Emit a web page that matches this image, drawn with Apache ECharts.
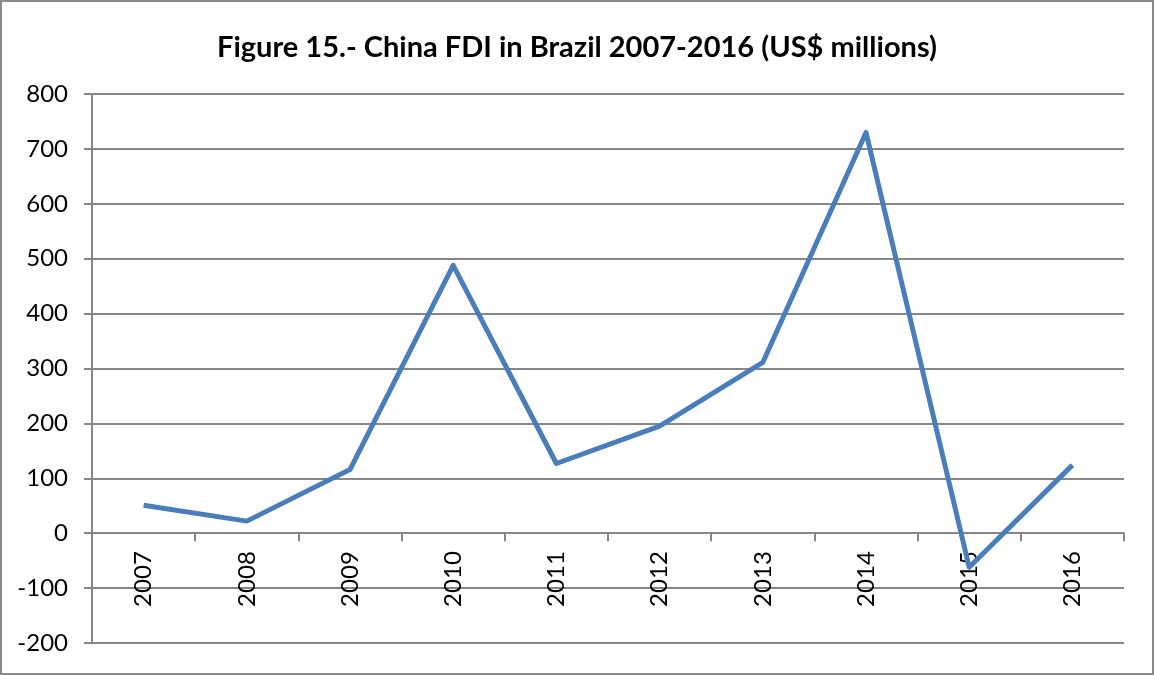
<!DOCTYPE html>
<html>
<head>
<meta charset="utf-8">
<script src="https://cdn.jsdelivr.net/npm/echarts@6/dist/echarts.min.js"></script>
<style>
  html, body { margin: 0; padding: 0; background: #fff; }
  #chart { width: 1154px; height: 675px; box-sizing: border-box; border: 2px solid #8a8a8a; }
</style>
</head>
<body>
<div id="chart"></div>
<script>
const titleText = "Figure 15.- China FDI in Brazil 2007-2016 (US$ millions)";
const years = ["2007", "2008", "2009", "2010", "2011", "2012", "2013", "2014", "2015", "2016"];
const fdiValues = [51, 22, 116, 488, 127, 195, 311, 730, -62, 124];
const yMin = -200, yMax = 800, yStep = 100;

const el = document.getElementById('chart');
const chart = echarts.init(el, null, { renderer: 'canvas' });
const font = 'Lato, "Open Sans", sans-serif';
const gridTop = 92, gridBottom = 30;
const gridHeight = el.clientHeight - gridTop - gridBottom;
// place the category axis on the zero line (labels follow it)
const zeroOffset = -gridHeight * (0 - yMin) / (yMax - yMin);

chart.setOption({
  animation: false,
  title: {
    text: titleText,
    left: 'center',
    top: 26,
    textStyle: { fontFamily: font, fontSize: 29, fontWeight: 'bold', color: '#000' }
  },
  grid: { left: 90, right: 28, top: gridTop, bottom: gridBottom, outerBoundsMode: 'none', containLabel: false },
  xAxis: {
    type: 'category',
    data: years,
    boundaryGap: true,
    position: 'bottom',
    offset: zeroOffset,
    axisLine: { onZero: false, lineStyle: { color: '#868686', width: 2 } },
    axisTick: { show: true, alignWithLabel: false, length: 8, lineStyle: { color: '#868686', width: 2 } },
    axisLabel: { rotate: 90, margin: 18, fontFamily: font, fontSize: 24, color: '#000' },
    splitLine: { show: false }
  },
  yAxis: {
    type: 'value',
    min: yMin,
    max: yMax,
    interval: yStep,
    axisLine: { show: true, lineStyle: { color: '#868686', width: 2 } },
    axisTick: { show: true, length: 8, lineStyle: { color: '#868686', width: 2 } },
    axisLabel: { margin: 24, fontFamily: font, fontSize: 24, color: '#000' },
    splitLine: { show: true, lineStyle: { color: '#868686', width: 2 } }
  },
  series: [{
    type: 'line',
    data: fdiValues,
    symbol: 'none',
    lineStyle: { color: '#4a7ebb', width: 5, join: 'round' },
    itemStyle: { color: '#4a7ebb' }
  }]
});
</script>
</body>
</html>
